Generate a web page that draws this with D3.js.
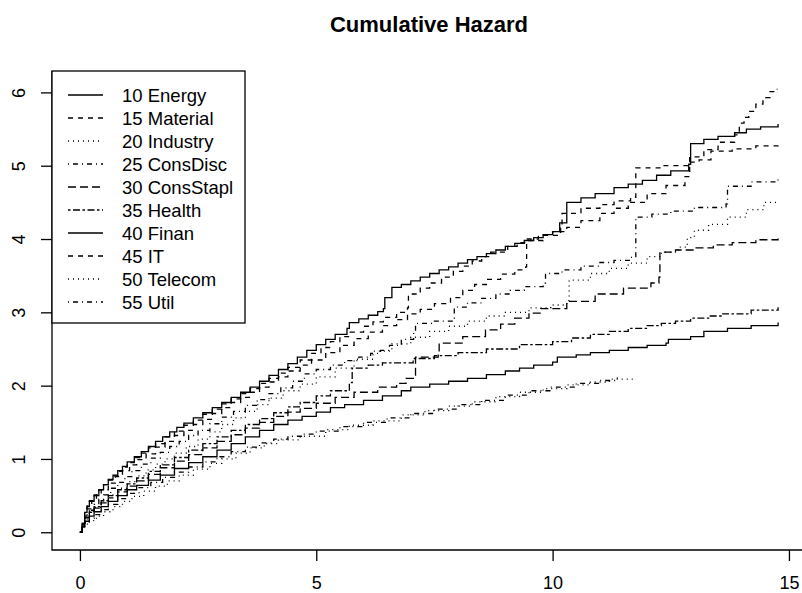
<!DOCTYPE html>
<html>
<head>
<meta charset="utf-8">
<script src="https://cdn.jsdelivr.net/npm/d3@7"></script>
<style>
  body { margin: 0; background: #fff; }
  text { font-family: "Liberation Sans", Arial, Helvetica, sans-serif; }
</style>
</head>
<body>
<svg width="802" height="593"></svg>
<script>
// Cumulative hazard by sector, [time, hazard] at each step
var energy = [[0,0],[0.05,0.12],[0.1,0.27],[0.15,0.35],[0.2,0.42],[0.3,0.5],[0.4,0.58],[0.5,0.65],[0.6,0.72],[0.7,0.78],[0.8,0.84],[0.9,0.9],[1.0,0.96],[1.15,1.03],[1.3,1.1],[1.45,1.17],[1.6,1.24],[1.75,1.3],[1.9,1.37],[2.05,1.43],[2.2,1.49],[2.4,1.56],[2.6,1.63],[2.8,1.7],[3.0,1.77],[3.2,1.84],[3.4,1.91],[3.6,1.98],[3.8,2.06],[4.0,2.14],[4.2,2.22],[4.4,2.3],[4.6,2.39],[4.8,2.48],[5.0,2.56],[5.2,2.63],[5.4,2.7],[5.65,2.78],[5.7,2.86],[5.9,2.91],[6.1,2.96],[6.3,3.01],[6.42,3.05],[6.45,3.2],[6.6,3.34],[6.8,3.38],[7.0,3.43],[7.2,3.48],[7.4,3.53],[7.6,3.58],[7.8,3.62],[8.0,3.67],[8.2,3.72],[8.4,3.76],[8.6,3.8],[8.8,3.85],[9.0,3.9],[9.2,3.94],[9.4,3.98],[9.6,4.02],[9.8,4.06],[10.0,4.1],[10.15,4.22],[10.3,4.5],[10.6,4.56],[10.9,4.62],[11.3,4.7],[11.6,4.75],[11.9,4.8],[12.2,4.87],[12.5,4.93],[12.88,5.02],[12.92,5.3],[13.2,5.36],[13.5,5.4],[13.85,5.45],[14.1,5.5],[14.4,5.53],[14.77,5.57]];
var material = [[0,0],[0.05,0.12],[0.1,0.22],[0.15,0.32],[0.25,0.43],[0.35,0.51],[0.45,0.58],[0.6,0.67],[0.75,0.76],[0.9,0.84],[1.05,0.92],[1.2,0.99],[1.4,1.07],[1.6,1.16],[1.8,1.24],[2.0,1.32],[2.2,1.39],[2.4,1.47],[2.6,1.54],[2.8,1.62],[3.0,1.7],[3.2,1.77],[3.4,1.84],[3.6,1.91],[3.8,1.98],[4.0,2.05],[4.2,2.12],[4.4,2.2],[4.66,2.28],[4.9,2.35],[5.2,2.45],[5.5,2.55],[5.8,2.64],[6.1,2.73],[6.4,2.82],[6.7,2.9],[6.93,2.98],[7.2,3.04],[7.5,3.12],[7.84,3.2],[8.1,3.3],[8.35,3.38],[8.6,3.45],[8.9,3.52],[9.2,3.58],[9.43,3.62],[9.45,3.98],[9.8,4.05],[10.17,4.15],[10.2,4.35],[10.6,4.42],[11.0,4.47],[11.3,4.52],[11.65,4.57],[11.76,4.97],[12.3,5.0],[12.9,5.05],[13.1,5.08],[13.35,5.2],[13.8,5.23],[14.3,5.27],[14.77,5.3]];
var industry = [[0,0],[0.05,0.08],[0.1,0.18],[0.2,0.27],[0.3,0.34],[0.45,0.43],[0.6,0.51],[0.8,0.6],[1.0,0.69],[1.2,0.77],[1.4,0.85],[1.6,0.93],[1.8,1.0],[2.0,1.08],[2.25,1.17],[2.5,1.27],[2.75,1.37],[3.0,1.47],[3.25,1.56],[3.5,1.65],[3.75,1.74],[4.0,1.83],[4.3,1.93],[4.66,2.02],[5.0,2.12],[5.4,2.24],[5.8,2.36],[6.2,2.47],[6.6,2.57],[7.0,2.66],[7.4,2.74],[7.8,2.81],[8.2,2.88],[8.6,2.95],[9.0,3.0],[9.5,3.06],[9.96,3.1],[10.3,3.16],[10.35,3.44],[10.8,3.53],[11.2,3.6],[11.6,3.67],[12.0,3.76],[12.3,3.82],[12.65,3.89],[12.85,4.02],[13.0,4.12],[13.3,4.2],[13.7,4.3],[14.1,4.4],[14.47,4.5],[14.77,4.52]];
var consDisc = [[0,0],[0.05,0.1],[0.1,0.2],[0.2,0.3],[0.3,0.38],[0.4,0.45],[0.5,0.51],[0.65,0.6],[0.8,0.68],[0.95,0.76],[1.1,0.84],[1.3,0.93],[1.5,1.01],[1.7,1.09],[1.9,1.17],[2.1,1.24],[2.3,1.32],[2.5,1.39],[2.75,1.48],[3.0,1.57],[3.25,1.65],[3.5,1.73],[3.75,1.81],[4.0,1.89],[4.25,1.97],[4.5,2.06],[4.75,2.16],[5.0,2.22],[5.3,2.28],[5.6,2.34],[5.9,2.39],[6.15,2.44],[6.36,2.48],[6.55,2.55],[6.8,2.63],[7.06,2.72],[7.1,2.85],[7.5,2.88],[7.9,2.92],[7.92,3.07],[8.2,3.13],[8.5,3.19],[8.8,3.25],[9.1,3.3],[9.4,3.35],[9.8,3.4],[9.85,3.53],[10.2,3.58],[10.6,3.63],[11.0,3.68],[11.3,3.71],[11.65,3.75],[11.76,4.3],[12.1,4.34],[12.5,4.38],[13.0,4.43],[13.67,4.48],[13.7,4.72],[14.2,4.78],[14.77,4.82]];
var consStapl = [[0,0],[0.05,0.1],[0.1,0.19],[0.2,0.27],[0.3,0.33],[0.45,0.4],[0.6,0.47],[0.8,0.55],[1.0,0.63],[1.2,0.7],[1.45,0.79],[1.7,0.88],[2.0,0.97],[2.3,1.06],[2.6,1.15],[2.9,1.24],[3.2,1.33],[3.5,1.42],[3.8,1.5],[4.1,1.58],[4.4,1.64],[4.66,1.69],[5.0,1.76],[5.4,1.84],[5.8,1.91],[6.3,1.98],[6.7,2.03],[6.9,2.1],[7.1,2.39],[7.58,2.44],[7.6,2.58],[8.1,2.67],[8.58,2.76],[8.9,2.84],[9.2,2.92],[9.5,2.99],[9.75,3.05],[10.3,3.15],[10.9,3.25],[11.5,3.33],[12.08,3.4],[12.25,3.48],[12.27,3.82],[12.6,3.85],[13.0,3.88],[13.4,3.92],[13.8,3.95],[14.3,3.99],[14.77,4.02]];
var health = [[0,0],[0.05,0.1],[0.1,0.2],[0.2,0.29],[0.3,0.35],[0.45,0.43],[0.6,0.5],[0.8,0.58],[1.0,0.66],[1.2,0.74],[1.45,0.83],[1.7,0.92],[2.0,1.02],[2.3,1.12],[2.6,1.21],[2.9,1.3],[3.2,1.39],[3.5,1.47],[3.8,1.55],[4.1,1.63],[4.4,1.71],[4.66,1.77],[5.0,1.86],[5.3,1.93],[5.7,2.04],[5.76,2.24],[6.1,2.28],[6.4,2.31],[7.05,2.37],[7.5,2.41],[8.0,2.45],[8.6,2.5],[9.3,2.56],[10.0,2.6],[10.4,2.65],[10.8,2.7],[11.2,2.74],[11.6,2.78],[12.0,2.82],[12.3,2.85],[12.6,2.88],[12.92,2.92],[13.3,2.95],[13.6,2.98],[14.2,3.03],[14.77,3.07]];
var finan = [[0,0],[0.05,0.08],[0.1,0.15],[0.2,0.22],[0.3,0.28],[0.45,0.35],[0.6,0.42],[0.8,0.5],[1.0,0.58],[1.2,0.64],[1.45,0.71],[1.7,0.78],[2.0,0.87],[2.3,0.95],[2.6,1.03],[2.9,1.12],[3.2,1.21],[3.5,1.3],[3.8,1.39],[4.1,1.47],[4.4,1.53],[4.7,1.58],[5.0,1.64],[5.3,1.7],[5.6,1.74],[6.0,1.8],[6.4,1.86],[6.8,1.93],[7.0,1.98],[7.4,2.02],[7.8,2.06],[8.2,2.1],[8.6,2.15],[9.0,2.2],[9.3,2.24],[9.6,2.28],[10.0,2.32],[10.1,2.39],[10.5,2.42],[10.8,2.45],[11.2,2.48],[11.6,2.52],[12.0,2.55],[12.4,2.58],[12.45,2.63],[12.92,2.67],[13.2,2.74],[13.7,2.78],[14.2,2.82],[14.77,2.86]];
var it = [[0,0],[0.05,0.1],[0.1,0.28],[0.15,0.36],[0.2,0.43],[0.3,0.51],[0.4,0.58],[0.5,0.65],[0.6,0.71],[0.7,0.77],[0.8,0.83],[0.9,0.89],[1.0,0.95],[1.15,1.02],[1.3,1.08],[1.45,1.15],[1.6,1.21],[1.8,1.3],[2.0,1.38],[2.2,1.46],[2.4,1.53],[2.6,1.61],[2.8,1.68],[3.0,1.75],[3.2,1.82],[3.4,1.89],[3.6,1.96],[3.8,2.03],[4.0,2.1],[4.2,2.17],[4.4,2.25],[4.66,2.35],[4.9,2.44],[5.1,2.52],[5.3,2.6],[5.5,2.67],[5.72,2.73],[6.0,2.81],[6.2,2.87],[6.42,2.93],[6.7,3.0],[6.93,3.06],[6.95,3.25],[7.2,3.33],[7.4,3.4],[7.65,3.48],[7.9,3.56],[8.1,3.63],[8.3,3.7],[8.5,3.76],[8.69,3.82],[9.05,3.9],[9.25,3.95],[9.43,4.0],[9.7,4.05],[10.0,4.1],[10.3,4.16],[10.6,4.25],[11.0,4.35],[11.3,4.42],[11.6,4.5],[12.0,4.62],[12.4,4.73],[12.8,4.85],[12.9,5.12],[13.2,5.22],[13.5,5.32],[13.85,5.42],[13.95,5.58],[14.05,5.66],[14.15,5.74],[14.3,5.84],[14.45,5.93],[14.6,6.01],[14.75,6.05]];
var telecom = [[0,0],[0.05,0.06],[0.1,0.11],[0.2,0.16],[0.35,0.22],[0.5,0.28],[0.7,0.35],[0.9,0.42],[1.1,0.49],[1.35,0.56],[1.6,0.63],[1.85,0.7],[2.1,0.78],[2.4,0.86],[2.75,0.94],[3.0,1.0],[3.3,1.08],[3.6,1.15],[3.9,1.21],[4.2,1.26],[4.66,1.31],[5.2,1.4],[5.7,1.46],[6.2,1.52],[6.8,1.6],[7.3,1.66],[7.8,1.72],[8.3,1.78],[8.8,1.85],[9.3,1.91],[9.8,1.96],[10.3,2.01],[10.8,2.05],[11.2,2.09],[11.7,2.12]];
var util = [[0,0],[0.05,0.07],[0.1,0.13],[0.2,0.19],[0.3,0.24],[0.45,0.31],[0.6,0.38],[0.8,0.46],[1.0,0.53],[1.25,0.61],[1.5,0.68],[1.75,0.75],[2.0,0.82],[2.3,0.89],[2.6,0.96],[2.9,1.03],[3.2,1.1],[3.5,1.16],[3.8,1.22],[4.1,1.27],[4.4,1.31],[4.7,1.34],[5.0,1.38],[5.5,1.44],[6.0,1.5],[6.5,1.56],[7.0,1.62],[7.5,1.68],[8.0,1.74],[8.5,1.8],[9.0,1.87],[9.5,1.93],[9.96,1.98],[10.5,2.03],[11.0,2.07],[11.37,2.11]];

var labels = ["10 Energy", "15 Material", "20 Industry", "25 ConsDisc", "30 ConsStapl",
              "35 Health", "40 Finan", "45 IT", "50 Telecom", "55 Util"];
var series = [energy, material, industry, consDisc, consStapl, health, finan, it, telecom, util];
var xTicks = [0, 5, 10, 15];
var yTicks = [0, 1, 2, 3, 4, 5, 6];

// R line types 1..6 recycled
var dashes = ["none", "5,5", "1,4", "1,4,5,4", "8,4", "2.5,2.5,7,2.5"];

(function() {
    var svg = d3.select("svg");
    svg.append("rect").attr("width", 802).attr("height", 593).attr("fill", "#fff");

    var pLeft = 52, pRight = 806, pTop = 71, pBottom = 550;

    // R-style 4% padding around the data range
    var all = d3.merge(series);
    var xMax = d3.max(all, function(d) { return d[0]; });
    var yMax = d3.max(all, function(d) { return d[1]; });
    var x = d3.scaleLinear().domain([-0.04 * xMax, 1.04 * xMax]).range([pLeft, pRight]);
    var y = d3.scaleLinear().domain([-0.04 * yMax, 1.04 * yMax]).range([pBottom, pTop]);

    var line = d3.line()
        .x(function(d) { return x(d[0]); })
        .y(function(d) { return y(d[1]); })
        .curve(d3.curveStepAfter);

    svg.append("g").selectAll("path")
        .data(series)
        .enter().append("path")
        .attr("d", line)
        .attr("fill", "none")
        .attr("stroke", "#000")
        .attr("stroke-width", 1.3)
        .attr("stroke-dasharray", function(d, i) { return dashes[i % 6]; });

    // L-shaped box
    svg.append("path")
        .attr("d", "M" + pLeft + "," + pTop + "V" + pBottom + "H" + pRight)
        .attr("fill", "none").attr("stroke", "#000").attr("stroke-width", 1.3);

    var xAxis = svg.append("g")
        .attr("transform", "translate(0," + pBottom + ")")
        .call(d3.axisBottom(x).tickValues(xTicks).tickSize(11).tickPadding(15));
    var yAxis = svg.append("g")
        .attr("transform", "translate(" + pLeft + ",0)")
        .call(d3.axisLeft(y).tickValues(yTicks).tickFormat(d3.format("d")).tickSize(11));

    [xAxis, yAxis].forEach(function(g) {
        g.select(".domain").remove();
        g.selectAll("line").attr("stroke", "#000").attr("stroke-width", 1.3);
        g.selectAll("text").attr("fill", "#000").style("font-size", "18px");
    });
    yAxis.selectAll("text")
        .attr("x", 0).attr("y", 0).attr("dy", null)
        .attr("text-anchor", "middle")
        .attr("transform", "translate(-27,0) rotate(-90)");

    svg.append("text")
        .attr("x", (pLeft + pRight) / 2).attr("y", 32)
        .attr("text-anchor", "middle")
        .style("font-size", "22px").style("font-weight", "bold")
        .text("Cumulative Hazard");

    // legend
    var lg = svg.append("g");
    lg.append("rect")
        .attr("x", pLeft).attr("y", pTop).attr("width", 193).attr("height", 252)
        .attr("fill", "#fff").attr("stroke", "#000").attr("stroke-width", 1.3);
    var rows = lg.selectAll("g.row").data(labels).enter().append("g")
        .attr("transform", function(d, i) { return "translate(0," + (95 + i * 23) + ")"; });
    rows.append("line")
        .attr("x1", 68).attr("x2", 103)
        .attr("stroke", "#000").attr("stroke-width", 1.3)
        .attr("stroke-dasharray", function(d, i) { return dashes[i % 6]; });
    rows.append("text")
        .attr("x", 122).attr("dy", "0.36em")
        .style("font-size", "18.5px")
        .text(function(d) { return d; });
})();
</script>
</body>
</html>
